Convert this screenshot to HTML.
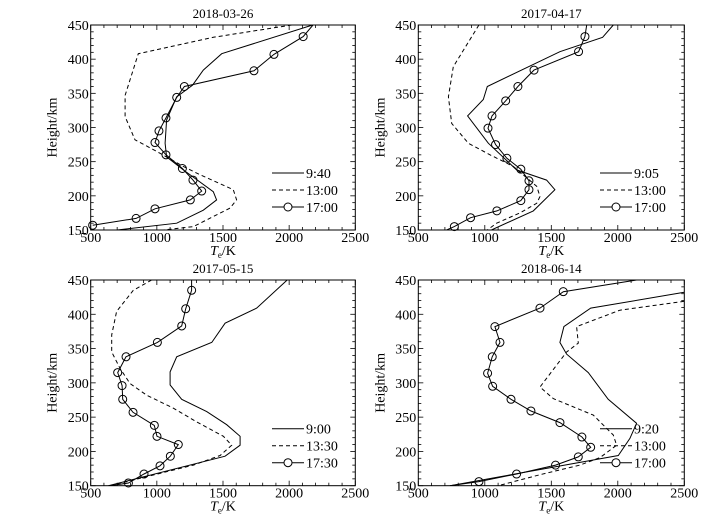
<!DOCTYPE html>
<html><head><meta charset="utf-8"><style>
body{margin:0;background:#fff;}
svg{display:block;font-family:"Liberation Serif","DejaVu Serif",serif;}
svg text{font-family:"Liberation Serif","DejaVu Serif",serif;}
</style></head><body>
<svg id="chart" width="722" height="520" viewBox="0 0 722 520"></svg>
<script>
const xTicks=[500,1000,1500,2000,2500];
const yTicks=[150,200,250,300,350,400,450];
const titles=["2018-03-26","2017-04-17","2017-05-15","2018-06-14"];
const legendLabels=[["9:40","13:00","17:00"],["9:05","13:00","17:00"],["9:00","13:30","17:30"],["9:20","13:00","17:00"]];
// panel 1
const p1_solidT=[2177,1490,1351,1270,1150,1074,1062,1074,1200,1427,1452,1351,1150,700];
const p1_solidH=[450,408,384,362,345,311,277,257,238,206,194,179,160,150];
const p1_dashT=[2020,1427,860,760,760,835,999,1200,1326,1578,1603,1553,1276,1050];
const p1_dashH=[450,432,408,347,316,282,265,243,231,209,194,182,155,150];
const p1_circT=[2180,2106,1885,1734,1208,1150,1069,1016,986,1069,1193,1273,1339,1253,986,843,515];
const p1_circH=[450,433,407,383,360,344,314,295,278,260,240,223,207,194,181,167,157];
// panel 2
const p2_solidT=[1966,1886,1565,1019,989,871,1026,1239,1465,1527,1365,1050];
const p2_solidH=[450,432,411,360,341,317,277,238,223,209,178,150];
const p2_dashT=[956,763,726,751,876,1039,1214,1390,1415,1390,1264,1089,1019];
const p2_dashH=[450,389,345,306,277,260,243,214,199,189,175,160,150];
const p2_circT=[1766,1753,1705,1370,1249,1157,1054,1024,1081,1166,1271,1332,1332,1271,1091,893,771,713];
const p2_circH=[450,433,411,384,360,339,317,299,275,255,239,222,209,193,178,168,155,150];
// panel 3
const p3_solidT=[1985,1755,1516,1415,1150,1100,1100,1188,1377,1528,1629,1629,1516,634];
const p3_solidH=[450,409,387,359,338,316,297,276,258,239,222,209,193,150];
const p3_dashT=[961,822,696,659,659,722,797,923,1125,1301,1503,1566,1478,1276,646];
const p3_dashH=[450,435,404,370,345,321,299,282,263,243,222,209,194,180,150];
const p3_circT=[1263,1263,1218,1188,1004,767,704,737,742,820,981,1001,1162,1102,1024,903,785,646];
const p3_circH=[450,435,408,383,359,338,315,296,276,257,238,222,210,193,179,167,154,150];
// panel 4
const p4_solidT=[2500,1796,1595,1565,1615,1778,1928,2141,2091,2004,738];
const p4_solidH=[432,409,382,359,342,315,276,241,219,194,150];
const p4_dashT=[2500,2016,1690,1703,1615,1415,1515,1816,1966,1991,1866,1715,1415,1101];
const p4_dashH=[419,406,382,358,345,294,277,253,224,209,191,180,166,150];
const p4_circT=[2141,1590,1415,1076,1114,1056,1021,1059,1197,1347,1565,1730,1796,1703,1532,1239,956,738];
const p4_circH=[450,433,409,382,359,338,314,295,276,259,242,221,206,192,180,167,156,150];

const panels=[
 {x0:90.7,x1:355.3,y0:25,y1:230,lx:272,s:[p1_solidT,p1_solidH],d:[p1_dashT,p1_dashH],c:[p1_circT,p1_circH]},
 {x0:418.3,x1:684.3,y0:25,y1:230,lx:600,s:[p2_solidT,p2_solidH],d:[p2_dashT,p2_dashH],c:[p2_circT,p2_circH]},
 {x0:90.7,x1:355.3,y0:280,y1:485.7,lx:272,s:[p3_solidT,p3_solidH],d:[p3_dashT,p3_dashH],c:[p3_circT,p3_circH]},
 {x0:418.3,x1:684.3,y0:280,y1:485.7,lx:600,s:[p4_solidT,p4_solidH],d:[p4_dashT,p4_dashH],c:[p4_circT,p4_circH]}
];
const NS="http://www.w3.org/2000/svg";
const svg=document.getElementById('chart');
const FF='Liberation Serif, DejaVu Serif, serif';
function mk(tag,attrs,parent){const e=document.createElementNS(NS,tag);for(const k in attrs)e.setAttribute(k,attrs[k]);if(tag==='text')e.setAttribute('font-family',FF);(parent||svg).appendChild(e);return e;}
panels.forEach((p,i)=>{
 const g=mk('g',{});
 
 
 const sx=t=>p.x0+(t-500)/2000*(p.x1-p.x0);
 const sy=h=>p.y1-(h-150)/300*(p.y1-p.y0);
 const frame=mk('rect',{x:p.x0,y:p.y0,width:p.x1-p.x0,height:p.y1-p.y0,fill:'none',stroke:'#000','stroke-width':1},g);
 
 
 for(let t=500;t<=2500;t+=100){const major=(t%500===0),L=major?5:3;const x=sx(t);
  mk('line',{x1:x,x2:x,y1:p.y1,y2:p.y1-L,stroke:'#000','stroke-width':0.8},g);
  mk('line',{x1:x,x2:x,y1:p.y0,y2:p.y0+L,stroke:'#000','stroke-width':0.8},g);}
 for(let h=150;h<=450;h+=10){const major=(h%50===0),L=major?5:3;const y=sy(h);
  mk('line',{x1:p.x0,x2:p.x0+L,y1:y,y2:y,stroke:'#000','stroke-width':0.8},g);
  mk('line',{x1:p.x1,x2:p.x1-L,y1:y,y2:y,stroke:'#000','stroke-width':0.8},g);}
 xTicks.forEach(t=>{const e=mk('text',{x:sx(t),y:p.y1+12,'text-anchor':'middle','font-size':14},g);e.textContent=t;
  
  });
 yTicks.forEach(h=>{const e=mk('text',{x:p.x0-2,y:sy(h)+5,'text-anchor':'end','font-size':14},g);e.textContent=h;
  
  });
 const tt=mk('text',{x:(p.x0+p.x1)/2,y:p.y0-7,'text-anchor':'middle','font-size':13},g);tt.textContent=titles[i];
 
 
 const xl=mk('text',{x:(p.x0+p.x1)/2,y:p.y1+25,'text-anchor':'middle','font-size':14},g);
 xl.innerHTML='<tspan font-style="italic">T</tspan><tspan font-size="9" dy="3">e</tspan><tspan dy="-3">/K</tspan>';
 
 
 const yx=p.x0-34,yy=(p.y0+p.y1)/2;
 const yl=mk('text',{x:yx,y:yy,'text-anchor':'middle','font-size':14,transform:`rotate(-90 ${yx} ${yy})`},g);yl.textContent='Height/km';
 
 
 const cp=mk('clipPath',{id:'cp'+i},g);mk('rect',{x:p.x0,y:p.y0,width:p.x1-p.x0,height:p.y1-p.y0},cp);
 const series=[[p.s,'none','solid'],[p.d,'4,3','dashed'],[p.c,'none','circle']];
 series.forEach(([arr,dash,kind],k)=>{
  const pts=arr[0].map((t,j)=>sx(t).toFixed(1)+','+sy(arr[1][j]).toFixed(1)).join(' ');
  const pl=mk('polyline',{points:pts,fill:'none',stroke:'#000','stroke-width':1,'stroke-dasharray':dash,'clip-path':`url(#cp${i})`},g);
  
  
  if(kind==='circle'){arr[0].forEach((t,j)=>{const h=arr[1][j];if(h>=450||h<=150)return;
   const c=mk('circle',{cx:sx(t),cy:sy(h),r:4,fill:'none',stroke:'#000','stroke-width':1},g);
   
   });}
  const ly=p.y1-57+k*17;
  const ll=mk('line',{x1:p.lx,x2:p.lx+32,y1:ly,y2:ly,stroke:'#000','stroke-width':1,'stroke-dasharray':dash},g);
  
  
  if(kind==='circle'){mk('circle',{cx:p.lx+16,cy:ly,r:4,fill:'#fff',stroke:'#000'},g);}
  const lt=mk('text',{x:p.lx+34,y:ly+5,'font-size':14},g);lt.textContent=legendLabels[i][k];
  
  
 });
});
</script>
</body></html>
